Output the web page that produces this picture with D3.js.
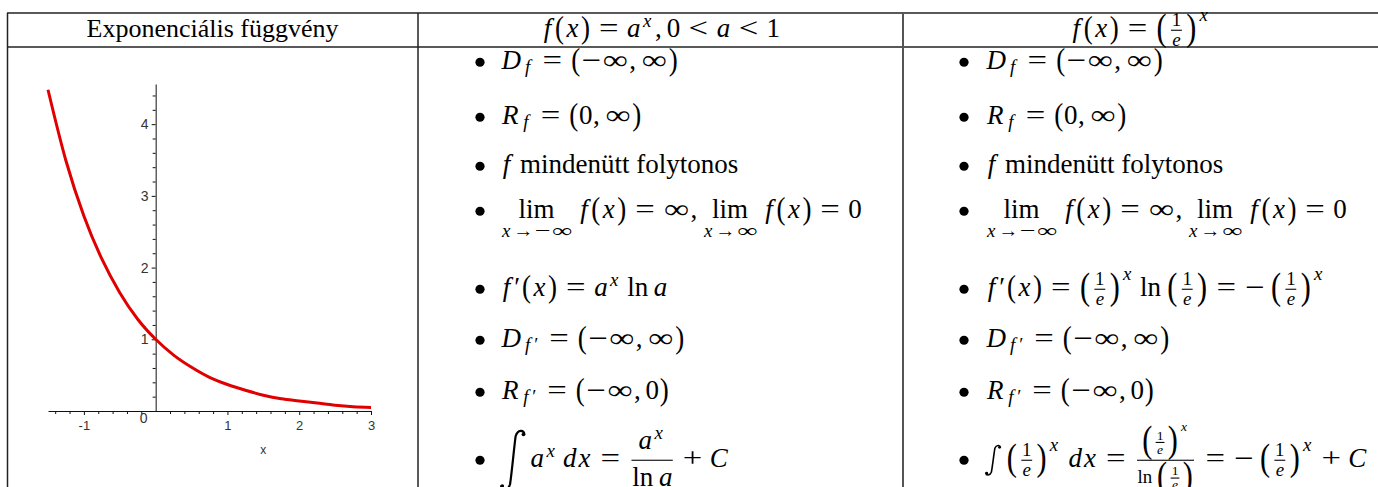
<!DOCTYPE html>
<html><head><meta charset="utf-8">
<script src="https://cdn.jsdelivr.net/npm/d3@7"></script>
<style>html,body{margin:0;padding:0;background:#fff;}svg{display:block;}</style>
</head><body>
<svg id="c" width="1378" height="487"></svg>
<script>
// ---------------- data ----------------
const headerTexts = ["Exponenciális függvény"];
const curveX = [-1.5,-1.25,-1,-0.75,-0.5,-0.25,0,0.25,0.5,0.75,1,1.25,1.5,1.75,2,2.25,2.5,2.75,3];
const curveY = [4.48,3.49,2.72,2.12,1.65,1.28,1.00,0.78,0.61,0.47,0.37,0.29,0.22,0.17,0.14,0.11,0.08,0.06,0.05];
const xTickValues = [-1,1,2,3];
const xTickLabels = ["-1","1","2","3"];
const yTickValues = [1,2,3,4];
const yTickLabels = ["1","2","3","4"];
const xMinorTicks = [-1.4,-1.2,-0.8,-0.6,-0.4,-0.2,0.2,0.4,0.6,0.8,1.2,1.4,1.6,1.8,2.2,2.4,2.6,2.8];
const yMinorTicks = [0.2,0.4,0.6,0.8,1.2,1.4,1.6,1.8,2.2,2.4,2.6,2.8,3.2,3.4,3.6,3.8,4.2,4.4];
const originLabel = "0";
const axisTitle = "x";

// ---------------- setup ----------------
const SERIF = '"Liberation Serif","Times New Roman",serif';
const SANS = '"Liberation Sans",Arial,sans-serif';
const S = 27;               // base math size
const svg = d3.select('#c');
const cv = document.createElement('canvas').getContext('2d');
function measure(s, size, italic){ cv.font=(italic?'italic ':'')+size+'px '+SERIF; return cv.measureText(s).width; }

// ---------------- table lines ----------------
const lines = svg.append('g').attr('stroke','#222').attr('stroke-width',1.5);
lines.append('line').attr('x1',7).attr('x2',1378).attr('y1',13).attr('y2',13);
lines.append('line').attr('x1',7).attr('x2',1378).attr('y1',47).attr('y2',47);
lines.append('line').attr('x1',7.5).attr('x2',7.5).attr('y1',13).attr('y2',487);
lines.append('line').attr('x1',418).attr('x2',418).attr('y1',13).attr('y2',487);
lines.append('line').attr('x1',903).attr('x2',903).attr('y1',13).attr('y2',487).attr('stroke','#555').attr('stroke-width',2);

// ---------------- plot ----------------
const x = d3.scaleLinear().domain([-1.5,3]).range([48,371]);
const y = d3.scaleLinear().domain([0,4.56]).range([411,84]);
const plot = svg.append('g');
plot.append('g').attr('class','xa').attr('transform','translate(0,'+y(0)+')')
  .call(d3.axisBottom(x).tickValues(xTickValues).tickSize(4).tickSizeOuter(0).tickPadding(6)
    .tickFormat((d,i)=>xTickLabels[i]));
const xm = plot.append('g').attr('transform','translate(0,'+y(0)+')')
  .call(d3.axisBottom(x).tickValues(xMinorTicks).tickSize(3).tickSizeOuter(0).tickFormat(''));
xm.select('.domain').remove();
plot.append('g').attr('class','ya').attr('transform','translate('+x(0)+',0)')
  .call(d3.axisLeft(y).tickValues(yTickValues).tickSize(4).tickSizeOuter(0).tickPadding(3)
    .tickFormat((d,i)=>yTickLabels[i]));
const ym = plot.append('g').attr('transform','translate('+x(0)+',0)')
  .call(d3.axisLeft(y).tickValues(yMinorTicks).tickSize(3).tickSizeOuter(0).tickFormat(''));
ym.select('.domain').remove();
plot.selectAll('g').attr('font-family',SANS);
plot.selectAll('.xa .tick text').style('font-size','13px').style('fill','#333');
plot.selectAll('.ya .tick text').style('font-size','14px').style('fill','#333');
plot.selectAll('.domain').attr('stroke','#111');
plot.selectAll('.tick line').attr('stroke','#111');
plot.append('text').attr('x',x(0)-12).attr('y',y(0)+12).attr('text-anchor','middle')
  .attr('font-family',SANS).style('font-size','14px').attr('fill','#333').text(originLabel);
plot.append('text').attr('x',x(1.5)).attr('y',y(0)+43).attr('text-anchor','middle')
  .attr('font-family',SANS).style('font-size','12px').attr('fill','#333').text(axisTitle);
const pts = curveX.map((v,i)=>[v,curveY[i]]);
plot.append('path').datum(pts).attr('fill','none').attr('stroke','#e00000').attr('stroke-width',3)
  .attr('d', d3.line().x(d=>x(d[0])).y(d=>y(d[1])).curve(d3.curveMonotoneX));

// ---------------- math layout engine ----------------
const G = svg.append('g').attr('font-family',SERIF).attr('fill','#000');
function box(w,a,d,draw){ return {w,a,d,draw}; }
function sp(w){ return box(w,0,0,()=>{}); }
function hb(...bs){
  return box(d3.sum(bs,b=>b.w), d3.max(bs,b=>b.a), d3.max(bs,b=>b.d),
    (g,X,Y)=>{ let cx=X; bs.forEach(b=>{ b.draw(g,cx,Y); cx+=b.w; }); });
}
const CMI = {D:.828,R:.759,f:.49,x:.572,a:.529,e:.466,C:.715,d:.52};
function parenGlyph(ch, size, H, big){
  const ax=.25*size, fsz = big? S : size;
  const ky = H/(0.853*fsz), sxx = big?1.12:1.0;
  const pw = big ? (H<1.5*S?.458:.597)*S : .389*size;
  return box(pw, ax+H/2, H/2-ax, (g,X,Y)=>{
    g.append('text').attr('font-size',fsz).attr('text-anchor','middle')
     .attr('transform',`translate(${(X+pw/2).toFixed(2)},${(Y-ax).toFixed(2)}) scale(${sxx},${ky.toFixed(3)}) translate(0,${(.25*fsz).toFixed(2)})`)
     .text(ch);
  });
}
function charBox(c, size){
  let w, a, d, it=false, sx=1;
  const wf = size < .8*S ? (size < .6*S ? 1.3 : 1.15) : 1;
  if (/[A-Za-z]/.test(c)){ it=true; w=CMI[c]||.55; a=/[A-Z]/.test(c)?.68:(/[bdfhklt]/.test(c)?.7:.45); d=/[fgjpqy]/.test(c)?.2:0; }
  else if (/[0-9]/.test(c)){ w=.5; a=.66; d=0; }
  else if (c==='('||c===')') return parenGlyph(c,size,size,false);
  else if (c===','){ w=.278; a=.1; d=.2; }
  else if ('=<+−'.includes(c)){ w=.778; a=.5; d=.05; sx='fit'; }
  else if (c==='→'){ w=1.0; a=.5; d=0; sx='fit'; }
  else if (c==='∞'){ w=1.0; a=.45; d=0; sx='fit'; }
  else if (c==='′'){ w=.3; a=.75; d=0; }
  else { w=measure(c,size,false)/size; a=.7; d=.2; }
  const W=w*size*wf;
  if (sx==='fit') sx = .93*W/measure(c,size,false);
  return box(W, a*size, d*size, (g,X,Y)=>{
    g.append('text').attr('font-size',size).attr('font-style',it?'italic':null).attr('text-anchor','middle')
     .attr('transform',`translate(${(X+W/2).toFixed(2)},${Y.toFixed(2)})`+(sx!==1?` scale(${sx.toFixed(3)},1)`:''))
     .text(c);
  });
}
function ml(str, size=S, script=false){
  const out=[]; let prev=null, after=0;
  for (let c of str){
    if (c===' ') continue;
    if (c==='-') c='−';
    let type='ord';
    if ('=<→'.includes(c)) type='rel';
    else if (c==='+') type='bin';
    else if (c==='−') type=(prev===null||prev==='rel'||prev==='open'||prev==='bin'||prev==='punct')?'ord':'bin';
    else if (c==='(') type='open'; else if (c===')') type='close'; else if (c===',') type='punct';
    if (!script){
      let before = type==='rel'?.278:(type==='bin'?.222:0);
      const s = before+after; if (s>0) out.push(sp(s*size));
      after = type==='rel'?.278:(type==='bin'?.222:(type==='punct'?.167:0));
    }
    out.push(charBox(c,size)); prev=type;
  }
  if (!script && after>0) out.push(sp(after*size));
  return hb(...out);
}
function word(s, size, cmw){
  const w = cmw? cmw*size : measure(s,size,false);
  return box(w,.7*size,0,(g,X,Y)=>{ g.append('text').attr('font-size',size).attr('x',X+(w-measure(s,size,false))/2).attr('y',Y).text(s); });
}
function txt(s, size){ const w=measure(s,size,false);
  return box(w,.7*size,.2*size,(g,X,Y)=>{ g.append('text').attr('font-size',size).attr('x',X).attr('y',Y).text(s); }); }
function sup(base, e, size){
  const shift = Math.max(.363*size, base.a-.25*size);
  return box(base.w+e.w+.05*size, Math.max(base.a, shift+e.a), base.d, (g,X,Y)=>{ base.draw(g,X,Y); e.draw(g,X+base.w,Y-shift); });
}
function sub(base, s, size){
  const shift=.15*size;
  return box(base.w+s.w+.05*size, base.a, Math.max(base.d, shift+s.d), (g,X,Y)=>{ base.draw(g,X,Y); s.draw(g,X+base.w,Y+shift); });
}
function frac(n, d, size, disp){
  const ax=.25*size, rule=Math.max(1,.04*S), clr=disp?3*rule:rule;
  let up = disp?.677*size:.394*size, dn = disp?.686*size:.345*size;
  up = Math.max(up, ax+rule/2+clr+n.d);
  dn = Math.max(dn, d.a-ax+rule/2+clr);
  const pad=.12*size, inner=Math.max(n.w,d.w), w=inner+2*pad;
  return box(w, up+n.a, dn+d.d, (g,X,Y)=>{
    n.draw(g, X+pad+(inner-n.w)/2, Y-up);
    d.draw(g, X+pad+(inner-d.w)/2, Y+dn);
    g.append('rect').attr('x',X+pad).attr('y',Y-ax-rule/2).attr('width',inner).attr('height',rule);
  });
}
function pg(inner, size){
  const ax=.25*size;
  const hh=Math.max(inner.a-ax, inner.d+ax);
  const need=Math.max(2*hh*.901, 2*hh-.5*S);
  const opts=[size, 1.2*S, 1.8*S, 2.4*S, 3.0*S];
  const H = opts.find(v=>v>=need-.5) || need;
  const big = H>size*1.01;
  return hb(parenGlyph('(',size,H,big), inner, parenGlyph(')',size,H,big));
}
function lim(subStr){
  const op=word('lim',S,1.389), sb=ml(subStr,.7*S,true);
  const w=Math.max(op.w,sb.w), drop=.72*S;
  return box(w, op.a, drop+sb.d, (g,X,Y)=>{ op.draw(g,X+(w-op.w)/2,Y); sb.draw(g,X+(w-sb.w)/2,Y+drop); });
}
function intg(disp){
  const H=(disp?2.22:1.11)*S, W=(disp?.95:.6)*S, ax=.25*S;
  return box(W, ax+H/2, H/2-ax, (g,X,Y)=>{
    const t=Y-ax-H/2, L=X+.05*W, R=X+.95*W, ww=R-L;
    const p=`M${R},${t+H*.07} C${R-ww*.02},${t-H*.01} ${L+ww*.72},${t-H*.02} ${L+ww*.62},${t+H*.1}`+
      ` C${L+ww*.55},${t+H*.3} ${L+ww*.46},${t+H*.7} ${L+ww*.38},${t+H*.9}`+
      ` C${L+ww*.28},${t+H*1.02} ${L+ww*.02},${t+H*1.01} ${L},${t+H*.93}`;
    g.append('path').attr('d',p).attr('fill','none').attr('stroke','#000').attr('stroke-width',disp?2.2:1.6).attr('stroke-linecap','round');
    g.append('circle').attr('cx',R-1).attr('cy',t+H*.07).attr('r',disp?1.8:1.3);
    g.append('circle').attr('cx',L+1).attr('cy',t+H*.93).attr('r',disp?1.8:1.3);
  });
}
const TH=.167*S;
const sc=.7*S, ss=.5*S;
const X = (sz)=>ml('x',sz,true);
const e1 = ()=>frac(ml('1',sc,true), ml('e',sc,true), S, false);
const e1s = ()=>frac(ml('1',ss,true), ml('e',ss,true), sc, false);
const ax_ = ()=>sup(ml('a'), X(sc), S);
const ex = ()=>sup(pg(e1(),S), X(sc), S);
const Dsub = (L, s)=>sub(ml(L), ml(s,sc,true), S);

function place(b, X0, Y0){ b.draw(G, X0, Y0); }
function bullet(cx, base){ G.append('circle').attr('cx',cx).attr('cy',base-.25*S).attr('r',4.6); }

// headers
G.append('text').attr('x',212.5).attr('y',37).attr('text-anchor','middle').attr('font-size',26).text(headerTexts[0]);
const h2 = hb(ml('f(x)='), ax_(), ml(',0<a<1'));
place(h2, 660.5-h2.w/2, 37);
const h3 = hb(ml('f(x)='), ex());
place(h3, 1140.5-h3.w/2, 37);

// rows
const baselines = [69,124,173,218,296,347,399,467];
const common = [
  ()=>hb(Dsub('D','f'), ml('=(−∞,∞)')),
  ()=>hb(Dsub('R','f'), ml('=(0,∞)')),
  ()=>hb(ml('f'), sp(.25*S), txt('mindenütt folytonos', S)),
  ()=>hb(lim('x→−∞'), sp(TH), ml('f(x)=∞,'), lim('x→∞'), sp(TH), ml('f(x)=0')),
];
const col2 = common.concat([
  ()=>hb(ml('f′(x)='), ax_(), sp(TH), word('ln',S,.834), sp(TH), ml('a')),
  ()=>hb(Dsub('D','f′'), ml('=(−∞,∞)')),
  ()=>hb(Dsub('R','f′'), ml('=(−∞,0)')),
  ()=>hb(intg(true), sp(TH), ax_(), sp(TH), ml('dx='),
        frac(ax_(), hb(word('ln',S,.834), sp(TH), ml('a')), S, true), ml('+C')),
]);
const col3 = common.concat([
  ()=>hb(ml('f′(x)='), ex(), sp(TH), word('ln',S,.834), sp(TH), pg(e1(),S), ml('=−'), sp(TH), ex()),
  ()=>hb(Dsub('D','f′'), ml('=(−∞,∞)')),
  ()=>hb(Dsub('R','f′'), ml('=(−∞,0)')),
  ()=>hb(intg(false), sp(TH), ex(), sp(.25*S), ml('dx='),
        frac(sup(pg(e1s(),sc), X(ss), sc), hb(word('ln',sc,.834), sp(.167*sc), pg(e1s(),sc)), S, false),
        ml('=−'), sp(TH), ex(), ml('+C')),
]);
col2.forEach((f,i)=>{ bullet(480, baselines[i]); place(f(), 500, baselines[i]); });
col3.forEach((f,i)=>{ bullet(964, baselines[i]); place(f(), 985, baselines[i]); });
</script>
</body></html>
